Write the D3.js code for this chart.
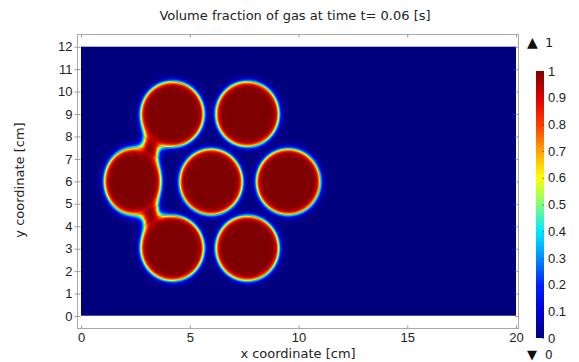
<!DOCTYPE html>
<html>
<head>
<meta charset="utf-8">
<script src="https://cdn.jsdelivr.net/npm/d3@7"></script>
<style>
  body { margin: 0; background: #fff; }
  svg { font-family: "DejaVu Sans", sans-serif; }
  .tick text { fill: #222; font-size: 13px; }
</style>
</head>
<body>
<div id="chart"></div>
<script>
// bubbles at t = 0.06 s (centres, semi-axes in cm)
const bubbleX  = [4.2, 7.65, 2.37, 5.98, 9.53, 4.2, 7.65];
const bubbleY  = [9.0, 9.0, 6.0, 5.98, 5.98, 3.02, 3.02];
const bubbleRx = [1.45, 1.45, 1.3, 1.45, 1.47, 1.45, 1.45];
const bubbleRy = [1.45, 1.45, 1.47, 1.47, 1.47, 1.45, 1.45];
// gas necks joining the left bubble to its neighbours
const neckX  = [3.2, 3.2];
const neckY  = [7.5, 4.5];
const neckRx = [0.3, 0.3];
const neckRy = [0.45, 0.45];
// initial bubble outlines (cm)
const initX = [4, 7.5, 2.5, 6, 9.5, 4, 7.5];
const initY = [9, 9, 6, 6, 6, 3, 3];
const initR = 1.5;

const xTicks = [0, 5, 10, 15, 20];
const yTicks = d3.range(0, 13);
const cbTicks = [0, 0.1, 0.2, 0.3, 0.4, 0.5, 0.6, 0.7, 0.8, 0.9, 1];
const rainbowStops = [0, 0.1, 0.2, 0.3, 0.4, 0.5, 0.6, 0.7, 0.8, 0.9, 1];
const rainbowColors = ['#00007f', '#0000d4', '#0020ff', '#0090ff', '#00e8ff',
  '#7dff7a', '#ffff00', '#ffa400', '#ff3c00', '#dc0000', '#7f0000'];

const W = 579, H = 362;
const svg = d3.select('#chart').append('svg').attr('width', W).attr('height', H);

const x = d3.scaleLinear().domain([0, 20]).range([81, 516]);
const y = d3.scaleLinear().domain([0, 12]).range([316, 46.7]);
const color = d3.scaleLinear().domain(rainbowStops).range(rainbowColors).clamp(true);

// volume fraction field: smooth union of the gas shapes with a tanh interface
const ellDist = (xv, yv, cx, cy, rx, ry) =>
  (Math.hypot((xv - cx) / rx, (yv - cy) / ry) - 1) * Math.min(rx, ry);
const smin = (vals, k) => -k * Math.log(d3.sum(vals, v => Math.exp(-v / k)));
const kBubble = 0.08, kNeck = 0.22, eps = 0.13;

const pw = Math.round(x(20) - x(0)), ph = Math.round(y(0) - y(12));
const canvas = document.createElement('canvas');
canvas.width = pw; canvas.height = ph;
const ctx = canvas.getContext('2d');
const img = ctx.createImageData(pw, ph);
for (let j = 0; j < ph; j++) {
  const yv = y.invert(y(12) + j + 0.5);
  for (let i = 0; i < pw; i++) {
    const xv = x.invert(x(0) + i + 0.5);
    const db = smin(bubbleX.map((_, b) =>
      ellDist(xv, yv, bubbleX[b], bubbleY[b], bubbleRx[b], bubbleRy[b])), kBubble);
    const dn = neckX.map((_, n) =>
      ellDist(xv, yv, neckX[n], neckY[n], neckRx[n], neckRy[n]));
    const dist = smin([db, ...dn], kNeck);
    const phi = 0.5 * (1 - Math.tanh(dist / eps));
    const c = d3.rgb(color(phi));
    const p = (j * pw + i) * 4;
    img.data[p] = c.r; img.data[p + 1] = c.g; img.data[p + 2] = c.b; img.data[p + 3] = 255;
  }
}
ctx.putImageData(img, 0, 0);

// frame
svg.append('rect')
  .attr('x', 77.5).attr('y', 34.5).attr('width', 441).attr('height', 294)
  .attr('fill', 'none').attr('stroke', '#aaa');

svg.append('image')
  .attr('x', x(0)).attr('y', y(12)).attr('width', pw).attr('height', ph)
  .attr('preserveAspectRatio', 'none')
  .attr('href', canvas.toDataURL());

// initial outlines
svg.append('clipPath').attr('id', 'clip').append('rect')
  .attr('x', x(0)).attr('y', y(12)).attr('width', pw).attr('height', ph);
svg.append('g').attr('clip-path', 'url(#clip)')
  .selectAll('ellipse').data(initX).join('ellipse')
  .attr('cx', (d, i) => x(initX[i]))
  .attr('cy', (d, i) => y(initY[i]))
  .attr('rx', x(initR) - x(0))
  .attr('ry', y(0) - y(initR))
  .attr('fill', 'none').attr('stroke', '#000').attr('stroke-opacity', 0.3).attr('stroke-width', 0.7);

// axes on the frame
const axB = svg.append('g').attr('transform', 'translate(0,328.5)')
  .call(d3.axisBottom(x).tickValues(xTicks).tickSize(-3).tickPadding(4));
const axT = svg.append('g').attr('transform', 'translate(0,34.5)')
  .call(d3.axisTop(x).tickValues(xTicks).tickSize(-3).tickFormat(''));
const axL = svg.append('g').attr('transform', 'translate(77.5,0)')
  .call(d3.axisLeft(y).tickValues(yTicks).tickSize(3).tickPadding(2));
const axR = svg.append('g').attr('transform', 'translate(518.5,0)')
  .call(d3.axisRight(y).tickValues(yTicks).tickSize(-3).tickFormat(''));
[axB, axT, axL, axR].forEach(a => {
  a.select('.domain').remove();
  a.selectAll('.tick line').attr('stroke', '#999');
});
axL.selectAll('.tick line').attr('x1', -3).attr('x2', 3);

// titles
svg.append('text').attr('x', 295).attr('y', 20).attr('text-anchor', 'middle')
  .attr('font-size', 13).attr('fill', '#222')
  .text('Volume fraction of gas at time t= 0.06 [s]');
svg.append('text').attr('x', 298).attr('y', 358).attr('text-anchor', 'middle')
  .attr('font-size', 13).attr('fill', '#222').text('x coordinate [cm]');
svg.append('text').attr('transform', 'translate(24,180) rotate(-90)')
  .attr('text-anchor', 'middle').attr('font-size', 13).attr('fill', '#222')
  .text('y coordinate [cm]');

// colour bar
const cb = d3.scaleLinear().domain([0, 1]).range([338, 71]);
const grad = svg.append('defs').append('linearGradient').attr('id', 'rainbow')
  .attr('x1', 0).attr('y1', 1).attr('x2', 0).attr('y2', 0);
grad.selectAll('stop').data(rainbowStops).join('stop')
  .attr('offset', d => d).attr('stop-color', (d, i) => rainbowColors[i]);
svg.append('rect').attr('x', 536).attr('y', cb(1)).attr('width', 8)
  .attr('height', cb(0) - cb(1)).attr('fill', 'url(#rainbow)');
const axC = svg.append('g').attr('transform', 'translate(544,0)')
  .call(d3.axisRight(cb).tickValues(cbTicks).tickSize(-2).tickPadding(4)
    .tickFormat(d3.format('~g')));
axC.select('.domain').remove();
axC.selectAll('.tick line').attr('stroke', '#333').attr('stroke-opacity', 0.5);

// range markers
svg.append('text').attr('x', 527).attr('y', 47).attr('font-size', 14).attr('fill', '#111').text('\u25B2');
svg.append('text').attr('x', 545).attr('y', 47).attr('font-size', 13).attr('fill', '#222').text('1');
svg.append('text').attr('x', 527).attr('y', 359).attr('font-size', 13).attr('fill', '#111').text('\u25BC');
svg.append('text').attr('x', 545).attr('y', 359).attr('font-size', 12).attr('fill', '#222').text('0');
</script>
</body>
</html>
